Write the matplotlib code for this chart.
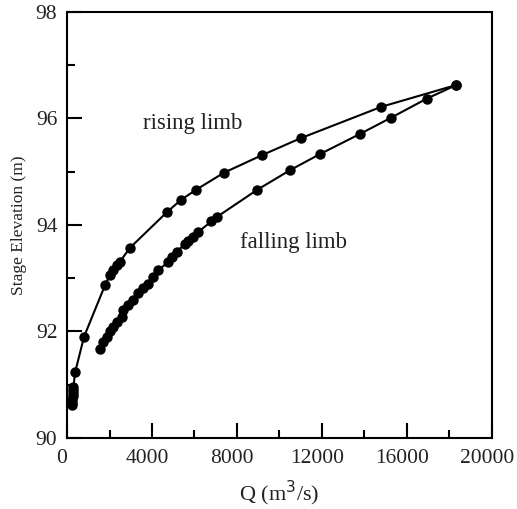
import matplotlib
matplotlib.use('Agg')
import matplotlib.pyplot as plt
import matplotlib.transforms as mtransforms
from matplotlib.ticker import MultipleLocator

# Rising limb (Q in m3/s, stage in m)
rise_q = [230, 240, 250, 260, 270, 280, 300, 380, 800, 1800, 2020, 2180, 2340, 2490,
          2960, 4700, 5360, 6070, 7380, 9170, 11000, 14800, 18330]
rise_h = [90.62, 90.66, 90.72, 90.78, 90.84, 90.90, 90.95, 91.23, 91.90, 92.88, 93.06,
          93.15, 93.25, 93.31, 93.57, 94.24, 94.47, 94.66, 94.98, 95.31, 95.63, 96.22, 96.63]

# Falling limb
fall_q = [18330, 16920, 15230, 13790, 11900, 10500, 8950, 7050, 6800, 6180, 5940, 5710,
          5550, 5160, 4920, 4770, 4300, 4060, 3830, 3590, 3360, 3120, 2890, 2650, 2570,
          2340, 2180, 2020, 1870, 1710, 1550]
fall_h = [96.63, 96.37, 96.01, 95.71, 95.33, 95.03, 94.66, 94.15, 94.07, 93.87, 93.78,
          93.70, 93.64, 93.50, 93.40, 93.31, 93.15, 93.03, 92.90, 92.81, 92.72, 92.59,
          92.50, 92.40, 92.28, 92.18, 92.09, 92.00, 91.90, 91.81, 91.68]

plt.rcParams['font.family'] = ['Liberation Serif', 'DejaVu Serif']
txt_col = '#222222'

fig = plt.figure(figsize=(5.17, 5.09), dpi=100)
ax = fig.add_axes([0.1296, 0.1395, 0.822, 0.837])

ax.plot(rise_q, rise_h, 'k-', marker='o', markersize=6.5, linewidth=1.5)
ax.plot(fall_q, fall_h, 'k-', marker='o', markersize=6.5, linewidth=1.5)

ax.text(3580, 95.9, 'rising limb', fontsize=16.5, va='center', ha='left', color=txt_col)
ax.text(8140, 93.68, 'falling limb', fontsize=16.5, va='center', ha='left', color=txt_col)

ax.set_xlim(0, 20000)
ax.set_ylim(90, 98)
ax.xaxis.set_major_locator(MultipleLocator(4000))
ax.xaxis.set_minor_locator(MultipleLocator(2000))
ax.yaxis.set_major_locator(MultipleLocator(2))
ax.yaxis.set_minor_locator(MultipleLocator(1))
ax.tick_params(which='both', direction='in', top=False, right=False, width=1.5,
               labelsize=15.5, labelcolor=txt_col)
ax.tick_params(axis='x', pad=8)
ax.tick_params(axis='y', pad=7)
ax.tick_params(which='major', length=11)
ax.tick_params(which='minor', length=6)
for s in ax.spines.values():
    s.set_linewidth(1.5)

# x tick labels sit a little left of their ticks in the original
shift = mtransforms.ScaledTranslation(-5 / 100, 0, fig.dpi_scale_trans)
for lbl in ax.get_xticklabels():
    lbl.set_transform(lbl.get_transform() + shift)

ax.set_xlabel('Q (m$^3$/s)', fontsize=16, labelpad=8, color=txt_col)
ax.set_ylabel('Stage Elevation (m)', fontsize=12.5, labelpad=6, color=txt_col)

fig.savefig('out.png', dpi=100)
